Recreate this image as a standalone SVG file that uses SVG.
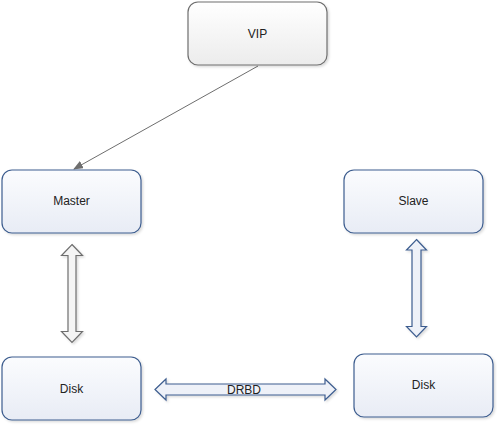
<svg xmlns="http://www.w3.org/2000/svg" width="497" height="425" viewBox="0 0 497 425">
<defs>
<linearGradient id="gGray" x1="0" y1="0" x2="0" y2="1"><stop offset="0" stop-color="#ffffff"/><stop offset="1" stop-color="#ececec"/></linearGradient>
<linearGradient id="gBlue" x1="0" y1="0" x2="0" y2="1"><stop offset="0" stop-color="#fbfcfe"/><stop offset="1" stop-color="#e8ecf5"/></linearGradient>
<filter id="sh" x="-10%" y="-10%" width="125%" height="130%"><feDropShadow dx="1.5" dy="1.5" stdDeviation="1.2" flood-color="#000" flood-opacity="0.15"/></filter>
<marker id="ah" markerWidth="10" markerHeight="8" refX="9" refY="4" orient="auto" markerUnits="userSpaceOnUse"><path d="M0,0 L10,4 L0,8 z" fill="#6e6e6e"/></marker>
</defs>
<style>
.nb{fill:url(#gBlue);stroke:#3d5d8f;stroke-width:1.2;filter:url(#sh)}
.ng{fill:url(#gGray);stroke:#6e6e6e;stroke-width:1.2;filter:url(#sh)}
.t{font-family:"Liberation Sans",Arial,sans-serif;font-size:12px;fill:#222;text-anchor:middle}
</style>
<g id="connectors">
<line x1="258" y1="66" x2="74" y2="169" stroke="#6e6e6e" stroke-width="1" marker-end="url(#ah)"/>
<path id="arrow-master-disk" d="M72,244.5 L82.5,255.5 L76,255.5 L76,331.5 L82.5,331.5 L72,342.5 L61.5,331.5 L68,331.5 L68,255.5 L61.5,255.5 Z" fill="#f4f4f4" stroke="#6e6e6e" stroke-width="1.2" filter="url(#sh)"/>
<path id="arrow-slave-disk" d="M416.5,239.5 L426.5,250 L421,250 L421,326.5 L426.5,326.5 L416.5,337 L406.5,326.5 L412,326.5 L412,250 L406.5,250 Z" fill="#eef1f8" stroke="#3d5d8f" stroke-width="1.2" filter="url(#sh)"/>
<path id="arrow-drbd" d="M155,389.5 L166,379 L166,384 L325,384 L325,379 L336,389.5 L325,400 L325,395 L166,395 L166,400 Z" fill="#eef1f8" stroke="#3d5d8f" stroke-width="1.2" filter="url(#sh)"/>
<text class="t" x="244" y="393.5">DRBD</text>
</g>
<g id="vip"><rect class="ng" x="188" y="2" width="139" height="63" rx="10"/><text class="t" x="257.5" y="37.5">VIP</text></g>
<g id="master"><rect class="nb" x="2" y="170" width="139" height="63" rx="10"/><text class="t" x="71.5" y="205">Master</text></g>
<g id="slave"><rect class="nb" x="344" y="170" width="139" height="63" rx="10"/><text class="t" x="413.5" y="205">Slave</text></g>
<g id="disk-left"><rect class="nb" x="2" y="357" width="139" height="63" rx="10"/><text class="t" x="71.5" y="393">Disk</text></g>
<g id="disk-right"><rect class="nb" x="354" y="354" width="139" height="63" rx="10"/><text class="t" x="423.5" y="389">Disk</text></g>
</svg>
